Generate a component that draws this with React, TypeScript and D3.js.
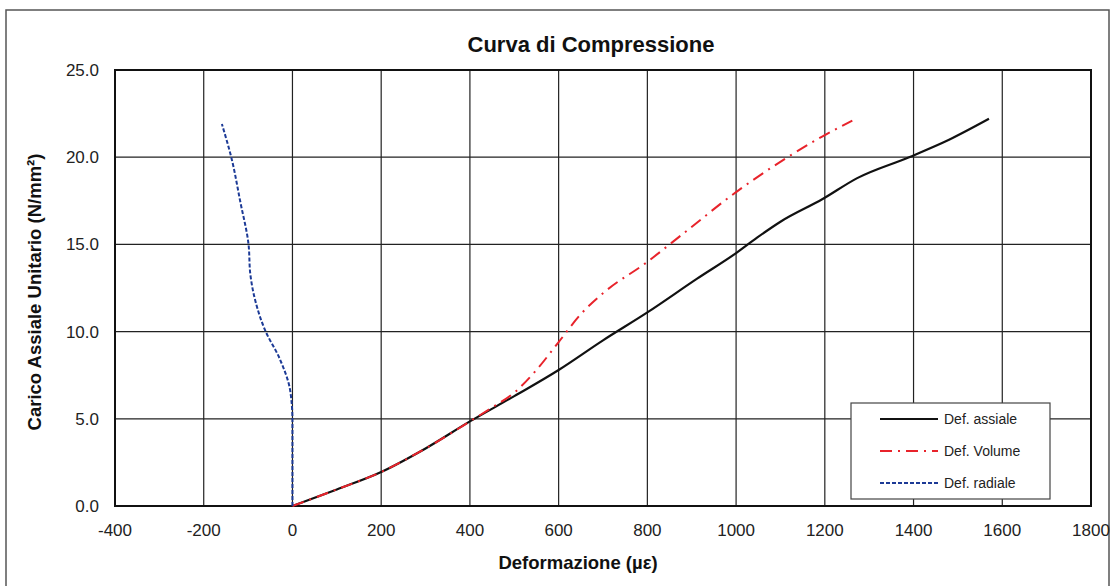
import React, { useEffect, useRef } from "react";
import * as d3 from "d3";

// Def. assiale (µε, N/mm²)
const assialeX = [0, 100, 200, 300, 400, 500, 600, 700, 800, 913, 1000, 1048, 1100, 1195, 1273, 1390, 1480, 1570];
const assialeY = [0, 0.95, 1.95, 3.3, 4.85, 6.3, 7.8, 9.5, 11.1, 13.05, 14.5, 15.4, 16.3, 17.6, 18.8, 20.0, 21.0, 22.2];

// Def. Volume
const volumeX = [0, 100, 200, 300, 400, 450, 500, 550, 600, 650, 700, 800, 875, 1000, 1116, 1195, 1262];
const volumeY = [0, 0.95, 1.95, 3.3, 4.85, 5.65, 6.5, 7.8, 9.4, 11.0, 12.2, 14.0, 15.5, 18.0, 20.0, 21.2, 22.1];

// Def. radiale
const radialeX = [0, 0, 0, 0, -5, -28, -62, -84, -95, -99, -118, -137, -159];
const radialeY = [0, 2, 4, 4.9, 6.6, 8.4, 10.1, 11.8, 13.3, 15.0, 17.5, 19.9, 21.9];

const xTicks = [-400, -200, 0, 200, 400, 600, 800, 1000, 1200, 1400, 1600, 1800];
const yTicks = [0, 5, 10, 15, 20, 25];

const seriesNames = ["Def. assiale", "Def. Volume", "Def. radiale"];

const App: React.FC = () => {
  const svgRef = useRef<SVGSVGElement>(null);
  const width = 1112;
  const height = 586;

  useEffect(() => {
    if (!svgRef.current) return;
    const svg = d3.select(svgRef.current);
    svg.selectAll("*").remove();

    const font = "'Liberation Sans', Arial, sans-serif";
    const plot = { left: 115, right: 1091, top: 70, bottom: 506 };

    const x = d3.scaleLinear().domain([-400, 1800]).range([plot.left, plot.right]);
    const y = d3.scaleLinear().domain([0, 25]).range([plot.bottom, plot.top]);

    // Outer frame
    svg
      .append("path")
      .attr("d", `M6,${height + 2} L6,10 L1109,10 L1109,${height + 2}`)
      .attr("fill", "none")
      .attr("stroke", "#555")
      .attr("stroke-width", 1.5);

    // Title
    svg
      .append("text")
      .attr("x", 591)
      .attr("y", 52)
      .attr("text-anchor", "middle")
      .style("font-family", font)
      .style("font-size", "22px")
      .style("font-weight", "bold")
      .attr("fill", "#111")
      .text("Curva di Compressione");

    // Grid
    const g = svg.append("g");
    g.selectAll(".vgrid")
      .data(xTicks)
      .enter()
      .append("line")
      .attr("x1", (d) => x(d))
      .attr("x2", (d) => x(d))
      .attr("y1", plot.top)
      .attr("y2", plot.bottom)
      .attr("stroke", "#222")
      .attr("stroke-width", 1.2);
    g.selectAll(".hgrid")
      .data(yTicks)
      .enter()
      .append("line")
      .attr("x1", plot.left)
      .attr("x2", plot.right)
      .attr("y1", (d) => y(d))
      .attr("y2", (d) => y(d))
      .attr("stroke", "#222")
      .attr("stroke-width", 1.2);

    // Plot border
    g.append("rect")
      .attr("x", plot.left)
      .attr("y", plot.top)
      .attr("width", plot.right - plot.left)
      .attr("height", plot.bottom - plot.top)
      .attr("fill", "none")
      .attr("stroke", "#111")
      .attr("stroke-width", 2);

    // Tick labels
    g.selectAll(".xt")
      .data(xTicks)
      .enter()
      .append("text")
      .attr("x", (d) => x(d))
      .attr("y", plot.bottom + 30)
      .attr("text-anchor", "middle")
      .style("font-family", font)
      .style("font-size", "17px")
      .attr("fill", "#222")
      .text((d) => String(d));
    g.selectAll(".yt")
      .data(yTicks)
      .enter()
      .append("text")
      .attr("x", plot.left - 16)
      .attr("y", (d) => y(d) + 6)
      .attr("text-anchor", "end")
      .style("font-family", font)
      .style("font-size", "17px")
      .attr("fill", "#222")
      .text((d) => d.toFixed(1));

    // Axis labels
    svg
      .append("text")
      .attr("x", 578)
      .attr("y", 569)
      .attr("text-anchor", "middle")
      .style("font-family", font)
      .style("font-size", "18.5px")
      .style("font-weight", "bold")
      .attr("fill", "#111")
      .text("Deformazione (µε)");
    svg
      .append("text")
      .attr("transform", "translate(41,292) rotate(-90)")
      .attr("text-anchor", "middle")
      .style("font-family", font)
      .style("font-size", "18.5px")
      .style("font-weight", "bold")
      .attr("fill", "#111")
      .text("Carico Assiale Unitario (N/mm²)");

    // Series
    const lineX = d3
      .line<[number, number]>()
      .x((d) => x(d[0]))
      .y((d) => y(d[1]))
      .curve(d3.curveMonotoneX);
    const lineY = d3
      .line<[number, number]>()
      .x((d) => x(d[0]))
      .y((d) => y(d[1]))
      .curve(d3.curveMonotoneY);

    const styles = [
      { color: "#111", dash: "", w: 2.2 },
      { color: "#e8232b", dash: "12,6,2,6", w: 2 },
      { color: "#1c3a96", dash: "4,2", w: 2 },
    ];
    const series: [number, number][][] = [
      assialeX.map((v, i) => [v, assialeY[i]]),
      volumeX.map((v, i) => [v, volumeY[i]]),
      radialeX.map((v, i) => [v, radialeY[i]]),
    ];

    series.forEach((s, i) => {
      g.append("path")
        .datum(s)
        .attr("d", i === 2 ? lineY : lineX)
        .attr("fill", "none")
        .attr("stroke", styles[i].color)
        .attr("stroke-width", styles[i].w)
        .attr("stroke-dasharray", styles[i].dash || null);
    });

    // Legend
    const lg = svg.append("g").attr("transform", "translate(851,403)");
    lg.append("rect")
      .attr("width", 199)
      .attr("height", 96)
      .attr("fill", "white")
      .attr("stroke", "#444")
      .attr("stroke-width", 1.2);
    seriesNames.forEach((name, i) => {
      const yy = 16 + i * 32;
      lg.append("line")
        .attr("x1", 29)
        .attr("x2", 87)
        .attr("y1", yy)
        .attr("y2", yy)
        .attr("stroke", styles[i].color)
        .attr("stroke-width", styles[i].w)
        .attr("stroke-dasharray", styles[i].dash || null);
      lg.append("text")
        .attr("x", 93)
        .attr("y", yy + 5)
        .style("font-family", font)
        .style("font-size", "14px")
        .attr("fill", "#222")
        .text(name);
    });
  }, []);

  return (
    <svg
      ref={svgRef}
      width={width}
      height={height}
      style={{ position: "absolute", left: 0, top: 0, background: "white" }}
    />
  );
};

export default App;
